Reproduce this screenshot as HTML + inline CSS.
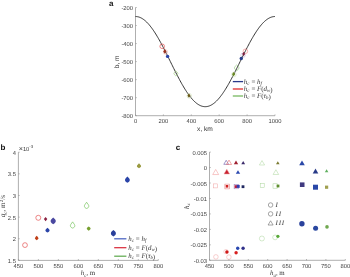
<!DOCTYPE html>
<html><head><meta charset="utf-8"><style>
html,body{margin:0;padding:0;background:#fff;width:350px;height:277px;overflow:hidden}
svg{display:block;text-rendering:geometricPrecision}
</style></head><body>
<svg width="350" height="277" viewBox="0 0 350 277">
<rect width="350" height="277" fill="#fff"/>
<g font-family="Liberation Sans, Arial, sans-serif">
<path d="M135.5,7.5 V115.7 H275.0" fill="none" stroke="#8c8c8c" stroke-width="0.7"/>
<path d="M135.5,7.50 h1.3" stroke="#8c8c8c" stroke-width="0.6"/>
<text x="133.00" y="9.55" font-size="5.8" text-anchor="end" fill="#404040" >-200</text>
<path d="M135.5,25.53 h1.3" stroke="#8c8c8c" stroke-width="0.6"/>
<text x="133.00" y="27.58" font-size="5.8" text-anchor="end" fill="#404040" >-300</text>
<path d="M135.5,43.57 h1.3" stroke="#8c8c8c" stroke-width="0.6"/>
<text x="133.00" y="45.62" font-size="5.8" text-anchor="end" fill="#404040" >-400</text>
<path d="M135.5,61.60 h1.3" stroke="#8c8c8c" stroke-width="0.6"/>
<text x="133.00" y="63.65" font-size="5.8" text-anchor="end" fill="#404040" >-500</text>
<path d="M135.5,79.63 h1.3" stroke="#8c8c8c" stroke-width="0.6"/>
<text x="133.00" y="81.68" font-size="5.8" text-anchor="end" fill="#404040" >-600</text>
<path d="M135.5,97.67 h1.3" stroke="#8c8c8c" stroke-width="0.6"/>
<text x="133.00" y="99.72" font-size="5.8" text-anchor="end" fill="#404040" >-700</text>
<path d="M135.5,115.70 h1.3" stroke="#8c8c8c" stroke-width="0.6"/>
<text x="133.00" y="117.75" font-size="5.8" text-anchor="end" fill="#404040" >-800</text>
<path d="M135.50,115.7 v-1.3" stroke="#8c8c8c" stroke-width="0.6"/>
<text x="135.50" y="123.10" font-size="5.8" text-anchor="middle" fill="#404040" >0</text>
<path d="M163.40,115.7 v-1.3" stroke="#8c8c8c" stroke-width="0.6"/>
<text x="163.40" y="123.10" font-size="5.8" text-anchor="middle" fill="#404040" >200</text>
<path d="M191.30,115.7 v-1.3" stroke="#8c8c8c" stroke-width="0.6"/>
<text x="191.30" y="123.10" font-size="5.8" text-anchor="middle" fill="#404040" >400</text>
<path d="M219.20,115.7 v-1.3" stroke="#8c8c8c" stroke-width="0.6"/>
<text x="219.20" y="123.10" font-size="5.8" text-anchor="middle" fill="#404040" >600</text>
<path d="M247.10,115.7 v-1.3" stroke="#8c8c8c" stroke-width="0.6"/>
<text x="247.10" y="123.10" font-size="5.8" text-anchor="middle" fill="#404040" >800</text>
<path d="M275.00,115.7 v-1.3" stroke="#8c8c8c" stroke-width="0.6"/>
<text x="275.00" y="123.10" font-size="5.8" text-anchor="middle" fill="#404040" >1000</text>
<text x="205.00" y="131.30" font-size="6.6" text-anchor="middle" fill="#303030" >x, km</text>
<text transform="translate(118.6,61.8) rotate(-90)" font-size="6.6" text-anchor="middle" fill="#303030">b, m</text>
</g>
<text x="109" y="5.8" font-family="Liberation Sans, Arial, sans-serif" font-size="8" font-weight="bold" fill="#111">a</text>
<polyline points="135.50,16.52 136.20,16.54 136.90,16.61 137.59,16.72 138.29,16.87 138.99,17.07 139.69,17.32 140.38,17.60 141.08,17.93 141.78,18.31 142.47,18.72 143.17,19.18 143.87,19.68 144.57,20.22 145.26,20.81 145.96,21.43 146.66,22.09 147.36,22.79 148.06,23.53 148.75,24.31 149.45,25.13 150.15,25.98 150.84,26.86 151.54,27.78 152.24,28.74 152.94,29.72 153.63,30.74 154.33,31.79 155.03,32.86 155.73,33.97 156.43,35.10 157.12,36.26 157.82,37.44 158.52,38.65 159.22,39.88 159.91,41.13 160.61,42.40 161.31,43.70 162.00,45.00 162.70,46.33 163.40,47.67 164.10,49.02 164.80,50.39 165.49,51.77 166.19,53.15 166.89,54.55 167.59,55.95 168.28,57.36 168.98,58.77 169.68,60.18 170.38,61.60 171.07,63.02 171.77,64.43 172.47,65.84 173.16,67.25 173.86,68.65 174.56,70.05 175.26,71.43 175.95,72.81 176.65,74.18 177.35,75.53 178.05,76.87 178.75,78.20 179.44,79.50 180.14,80.80 180.84,82.07 181.53,83.32 182.23,84.55 182.93,85.76 183.63,86.94 184.32,88.10 185.02,89.23 185.72,90.34 186.42,91.41 187.12,92.46 187.81,93.48 188.51,94.46 189.21,95.42 189.91,96.34 190.60,97.22 191.30,98.07 192.00,98.89 192.69,99.67 193.39,100.41 194.09,101.11 194.79,101.77 195.49,102.39 196.18,102.98 196.88,103.52 197.58,104.02 198.28,104.48 198.97,104.89 199.67,105.27 200.37,105.60 201.06,105.88 201.76,106.13 202.46,106.33 203.16,106.48 203.86,106.59 204.55,106.66 205.25,106.68 205.95,106.66 206.64,106.59 207.34,106.48 208.04,106.33 208.74,106.13 209.44,105.88 210.13,105.60 210.83,105.27 211.53,104.89 212.22,104.48 212.92,104.02 213.62,103.52 214.32,102.98 215.01,102.39 215.71,101.77 216.41,101.11 217.11,100.41 217.81,99.67 218.50,98.89 219.20,98.07 219.90,97.22 220.59,96.34 221.29,95.42 221.99,94.46 222.69,93.48 223.38,92.46 224.08,91.41 224.78,90.34 225.48,89.23 226.18,88.10 226.87,86.94 227.57,85.76 228.27,84.55 228.97,83.32 229.66,82.07 230.36,80.80 231.06,79.50 231.75,78.20 232.45,76.87 233.15,75.53 233.85,74.18 234.55,72.81 235.24,71.43 235.94,70.05 236.64,68.65 237.33,67.25 238.03,65.84 238.73,64.43 239.43,63.02 240.12,61.60 240.82,60.18 241.52,58.77 242.22,57.36 242.92,55.95 243.61,54.55 244.31,53.15 245.01,51.77 245.70,50.39 246.40,49.02 247.10,47.67 247.80,46.33 248.50,45.00 249.19,43.70 249.89,42.40 250.59,41.13 251.28,39.88 251.98,38.65 252.68,37.44 253.38,36.26 254.07,35.10 254.77,33.97 255.47,32.86 256.17,31.79 256.87,30.74 257.56,29.72 258.26,28.74 258.96,27.78 259.65,26.86 260.35,25.98 261.05,25.13 261.75,24.31 262.44,23.53 263.14,22.79 263.84,22.09 264.54,21.43 265.24,20.81 265.93,20.22 266.63,19.68 267.33,19.18 268.02,18.72 268.72,18.31 269.42,17.93 270.12,17.60 270.81,17.32 271.51,17.07 272.21,16.87 272.91,16.72 273.61,16.61 274.30,16.54 275.00,16.52" fill="none" stroke="#1e1e1e" stroke-width="0.9"/>
<circle cx="165.5" cy="52" r="2.2" fill="none" stroke="#f0b0b0" stroke-width="0.5" opacity="1"/>
<circle cx="162.2" cy="46.3" r="2.3" fill="none" stroke="#e03a3a" stroke-width="0.6" opacity="1"/>
<path d="M164.9,49.10 L166.60,51.4 L164.9,53.70 L163.20,51.4 Z" fill="#9a3420" stroke="none" stroke-width="0.6" opacity="1"/>
<circle cx="167.6" cy="56.4" r="1.7" fill="#2a44a8" stroke="none" stroke-width="0.6" opacity="1"/>
<path d="M175.9,70.84 L177.23,72.14 A1.9,1.9 0 0 1 177.11,74.96 L175.9,75.97 L174.69,74.96 A1.9,1.9 0 0 1 174.57,72.14 Z" fill="none" stroke="#9ccc78" stroke-width="0.6" opacity="1"/>
<circle cx="189.3" cy="95.9" r="2.3" fill="none" stroke="#c8dcb0" stroke-width="0.5" opacity="1"/>
<path d="M189,93.60 L190.60,95.7 L189,97.80 L187.40,95.7 Z" fill="#6a5a18" stroke="none" stroke-width="0.6" opacity="1"/>
<circle cx="245.4" cy="51.3" r="2.3" fill="none" stroke="#f08080" stroke-width="0.6" opacity="1"/>
<circle cx="243.0" cy="55.2" r="2.2" fill="none" stroke="#b0a0d0" stroke-width="0.5" opacity="1"/>
<path d="M243.6,51.90 L245.10,54 L243.6,56.10 L242.10,54 Z" fill="#7a2040" stroke="none" stroke-width="0.6" opacity="1"/>
<circle cx="241.3" cy="58.5" r="1.7" fill="#243c88" stroke="none" stroke-width="0.6" opacity="1"/>
<path d="M236.7,64.93 L238.18,66.27 A2.2,2.2 0 0 1 238.11,69.59 L236.7,70.76 L235.29,69.59 A2.2,2.2 0 0 1 235.22,66.27 Z" fill="none" stroke="#90c878" stroke-width="0.6" opacity="1"/>
<circle cx="233.9" cy="74.5" r="2.3" fill="none" stroke="#c8dcb0" stroke-width="0.5" opacity="1"/>
<path d="M233.6,72.10 L235.20,74.2 L233.6,76.30 L232.00,74.2 Z" fill="#6a8a20" stroke="none" stroke-width="0.6" opacity="1"/>
<line x1="232.8" y1="81.6" x2="243.1" y2="81.6" stroke="#2a3a8a" stroke-width="1.3"/>
<line x1="232.8" y1="89.0" x2="243.1" y2="89.0" stroke="#e02c2c" stroke-width="1.3"/>
<line x1="232.8" y1="96.0" x2="243.1" y2="96.0" stroke="#78b860" stroke-width="1.3"/>
<text x="243.8" y="83.5" font-family="Liberation Serif, serif" font-size="6.9" fill="#333"><tspan font-style="italic">h</tspan><tspan font-style="italic" font-size="4.83" dy="1.3">c</tspan><tspan dy="-1.3" dx="0.3"> = </tspan><tspan font-style="italic">h</tspan><tspan font-style="italic" font-size="4.83" dy="1.3">f</tspan><tspan dy="-1.3"></tspan></text>
<text x="243.8" y="90.9" font-family="Liberation Serif, serif" font-size="6.9" fill="#333"><tspan font-style="italic">h</tspan><tspan font-style="italic" font-size="4.83" dy="1.3">c</tspan><tspan dy="-1.3" dx="0.3"> = </tspan><tspan font-style="italic">F</tspan><tspan>(</tspan><tspan font-style="italic">d</tspan><tspan font-style="italic" font-size="4.83" dy="1.3">w</tspan><tspan dy="-1.3"></tspan><tspan>)</tspan></text>
<text x="243.8" y="97.9" font-family="Liberation Serif, serif" font-size="6.9" fill="#333"><tspan font-style="italic">h</tspan><tspan font-style="italic" font-size="4.83" dy="1.3">c</tspan><tspan dy="-1.3" dx="0.3"> = </tspan><tspan font-style="italic">F</tspan><tspan>(</tspan><tspan font-style="italic">τ</tspan><tspan font-style="italic" font-size="4.83" dy="1.3">b</tspan><tspan dy="-1.3"></tspan><tspan>)</tspan></text>
<g font-family="Liberation Sans, Arial, sans-serif">
<path d="M18.4,152.2 V260.4 H158.3" fill="none" stroke="#8c8c8c" stroke-width="0.7"/>
<path d="M18.4,152.20 h1.3" stroke="#8c8c8c" stroke-width="0.6"/>
<text x="15.90" y="154.70" font-size="5.8" text-anchor="end" fill="#404040" >4</text>
<path d="M18.4,173.84 h1.3" stroke="#8c8c8c" stroke-width="0.6"/>
<text x="15.90" y="176.34" font-size="5.8" text-anchor="end" fill="#404040" >3.5</text>
<path d="M18.4,195.48 h1.3" stroke="#8c8c8c" stroke-width="0.6"/>
<text x="15.90" y="197.98" font-size="5.8" text-anchor="end" fill="#404040" >3</text>
<path d="M18.4,217.12 h1.3" stroke="#8c8c8c" stroke-width="0.6"/>
<text x="15.90" y="219.62" font-size="5.8" text-anchor="end" fill="#404040" >2.5</text>
<path d="M18.4,238.76 h1.3" stroke="#8c8c8c" stroke-width="0.6"/>
<text x="15.90" y="241.26" font-size="5.8" text-anchor="end" fill="#404040" >2</text>
<path d="M18.4,260.40 h1.3" stroke="#8c8c8c" stroke-width="0.6"/>
<text x="15.90" y="262.90" font-size="5.8" text-anchor="end" fill="#404040" >1.5</text>
<path d="M18.40,260.4 v-1.3" stroke="#8c8c8c" stroke-width="0.6"/>
<text x="18.40" y="268.10" font-size="5.8" text-anchor="middle" fill="#404040" >450</text>
<path d="M38.39,260.4 v-1.3" stroke="#8c8c8c" stroke-width="0.6"/>
<text x="38.39" y="268.10" font-size="5.8" text-anchor="middle" fill="#404040" >500</text>
<path d="M58.37,260.4 v-1.3" stroke="#8c8c8c" stroke-width="0.6"/>
<text x="58.37" y="268.10" font-size="5.8" text-anchor="middle" fill="#404040" >550</text>
<path d="M78.36,260.4 v-1.3" stroke="#8c8c8c" stroke-width="0.6"/>
<text x="78.36" y="268.10" font-size="5.8" text-anchor="middle" fill="#404040" >600</text>
<path d="M98.34,260.4 v-1.3" stroke="#8c8c8c" stroke-width="0.6"/>
<text x="98.34" y="268.10" font-size="5.8" text-anchor="middle" fill="#404040" >650</text>
<path d="M118.33,260.4 v-1.3" stroke="#8c8c8c" stroke-width="0.6"/>
<text x="118.33" y="268.10" font-size="5.8" text-anchor="middle" fill="#404040" >700</text>
<path d="M138.31,260.4 v-1.3" stroke="#8c8c8c" stroke-width="0.6"/>
<text x="138.31" y="268.10" font-size="5.8" text-anchor="middle" fill="#404040" >750</text>
<path d="M158.30,260.4 v-1.3" stroke="#8c8c8c" stroke-width="0.6"/>
<text x="158.30" y="268.10" font-size="5.8" text-anchor="middle" fill="#404040" >800</text>
<text x="18.70" y="151.40" font-size="5.8" text-anchor="start" fill="#404040" ><tspan font-size="7.2">×</tspan>10<tspan font-size="4.4" dy="-3.2">-3</tspan></text>
</g>
<text x="0.6" y="150.2" font-family="Liberation Sans, Arial, sans-serif" font-size="8" font-weight="bold" fill="#111">b</text>
<text x="88" y="275.4" font-family="Liberation Serif, serif" font-size="6.9" text-anchor="middle" fill="#333"><tspan font-style="italic">h</tspan><tspan font-style="italic" font-size="4.8" dy="1.3">c</tspan><tspan dy="-1.3">, m</tspan></text>
<text transform="translate(5.4,206.2) rotate(-90)" font-family="Liberation Serif, serif" font-size="7.2" text-anchor="middle" fill="#333"><tspan font-style="italic">q</tspan><tspan font-style="italic" font-size="5.0" dy="1.3">c</tspan><tspan dy="-1.3">, m</tspan><tspan font-size="5.0" dy="-2.6">2</tspan><tspan dy="2.6">/s</tspan></text>
<circle cx="38.3" cy="217.8" r="2.5" fill="none" stroke="#e03a3a" stroke-width="0.6" opacity="1"/>
<path d="M45.6,216.90 L47.30,219.1 L45.6,221.30 L43.90,219.1 Z" fill="#8a2040" stroke="none" stroke-width="0.6" opacity="1"/>
<path d="M53.2,217.46 L55.02,219.24 A2.6,2.6 0 0 1 54.64,223.27 L53.2,224.22 L51.76,223.27 A2.6,2.6 0 0 1 51.38,219.24 Z" fill="#4a48a0" stroke="none" stroke-width="0.6" opacity="1"/>
<path d="M47.5,227.64 L48.83,228.94 A1.9,1.9 0 0 1 48.55,231.88 L47.5,232.58 L46.45,231.88 A1.9,1.9 0 0 1 46.17,228.94 Z" fill="#2a44a8" stroke="none" stroke-width="0.6" opacity="1"/>
<path d="M36.7,235.72 L37.89,236.89 A1.7,1.7 0 0 1 37.64,239.52 L36.7,240.14 L35.76,239.52 A1.7,1.7 0 0 1 35.51,236.89 Z" fill="#c04018" stroke="none" stroke-width="0.6" opacity="1"/>
<circle cx="25" cy="245.1" r="2.4" fill="none" stroke="#e03a3a" stroke-width="0.6" opacity="1"/>
<path d="M86.6,202.25 L88.41,204.84 A2.2,2.2 0 0 1 87.43,208.14 L86.6,208.48 L85.77,208.14 A2.2,2.2 0 0 1 84.79,204.84 Z" fill="none" stroke="#6cc050" stroke-width="0.65" opacity="1"/>
<path d="M72.6,221.85 L74.41,224.44 A2.2,2.2 0 0 1 73.43,227.74 L72.6,228.08 L71.77,227.74 A2.2,2.2 0 0 1 70.79,224.44 Z" fill="none" stroke="#6cc050" stroke-width="0.65" opacity="1"/>
<path d="M88.7,226.39 L89.79,227.29 A1.7,1.7 0 0 1 89.64,230.02 L88.7,230.64 L87.76,230.02 A1.7,1.7 0 0 1 87.61,227.29 Z" fill="#78a030" stroke="none" stroke-width="0.6" opacity="1"/>
<path d="M127.4,176.54 L129.08,178.19 A2.4,2.4 0 0 1 128.73,181.90 L127.4,182.78 L126.07,181.90 A2.4,2.4 0 0 1 125.72,178.19 Z" fill="#2a44a8" stroke="none" stroke-width="0.6" opacity="1"/>
<path d="M139,163.34 L140.33,164.64 A1.9,1.9 0 0 1 140.05,167.58 L139,168.28 L137.95,167.58 A1.9,1.9 0 0 1 137.67,164.64 Z" fill="#9a9a40" stroke="none" stroke-width="0.6" opacity="1"/>
<path d="M113.4,229.90 L115.15,231.61 A2.5,2.5 0 0 1 114.78,235.48 L113.4,236.40 L112.02,235.48 A2.5,2.5 0 0 1 111.65,231.61 Z" fill="#2a3f9a" stroke="none" stroke-width="0.6" opacity="1"/>
<line x1="114.2" y1="238.8" x2="126.4" y2="238.8" stroke="#4862c0" stroke-width="1.25"/>
<line x1="114.2" y1="247.7" x2="126.4" y2="247.7" stroke="#d82c3c" stroke-width="1.25"/>
<line x1="114.2" y1="256.2" x2="126.4" y2="256.2" stroke="#60aa50" stroke-width="1.25"/>
<text x="128.2" y="240.9" font-family="Liberation Serif, serif" font-size="6.9" fill="#333"><tspan font-style="italic">h</tspan><tspan font-style="italic" font-size="4.83" dy="1.3">c</tspan><tspan dy="-1.3" dx="0.3"> = </tspan><tspan font-style="italic">h</tspan><tspan font-style="italic" font-size="4.83" dy="1.3">f</tspan><tspan dy="-1.3"></tspan></text>
<text x="128.2" y="249.70000000000002" font-family="Liberation Serif, serif" font-size="6.9" fill="#333"><tspan font-style="italic">h</tspan><tspan font-style="italic" font-size="4.83" dy="1.3">c</tspan><tspan dy="-1.3" dx="0.3"> = </tspan><tspan font-style="italic">F</tspan><tspan>(</tspan><tspan font-style="italic">d</tspan><tspan font-style="italic" font-size="4.83" dy="1.3">w</tspan><tspan dy="-1.3"></tspan><tspan>)</tspan></text>
<text x="128.2" y="257.59999999999997" font-family="Liberation Serif, serif" font-size="6.9" fill="#333"><tspan font-style="italic">h</tspan><tspan font-style="italic" font-size="4.83" dy="1.3">c</tspan><tspan dy="-1.3" dx="0.3"> = </tspan><tspan font-style="italic">F</tspan><tspan>(</tspan><tspan font-style="italic">τ</tspan><tspan font-style="italic" font-size="4.83" dy="1.3">b</tspan><tspan dy="-1.3"></tspan><tspan>)</tspan></text>
<g font-family="Liberation Sans, Arial, sans-serif">
<path d="M209.5,152.1 V260.3 H345.3" fill="none" stroke="#8c8c8c" stroke-width="0.7"/>
<path d="M209.5,152.10 h1.3" stroke="#8c8c8c" stroke-width="0.6"/>
<text x="207.00" y="154.60" font-size="5.8" text-anchor="end" fill="#404040" >0.005</text>
<path d="M209.5,167.56 h1.3" stroke="#8c8c8c" stroke-width="0.6"/>
<text x="207.00" y="170.06" font-size="5.8" text-anchor="end" fill="#404040" >0</text>
<path d="M209.5,183.01 h1.3" stroke="#8c8c8c" stroke-width="0.6"/>
<text x="207.00" y="185.51" font-size="5.8" text-anchor="end" fill="#404040" >-0.005</text>
<path d="M209.5,198.47 h1.3" stroke="#8c8c8c" stroke-width="0.6"/>
<text x="207.00" y="200.97" font-size="5.8" text-anchor="end" fill="#404040" >-0.01</text>
<path d="M209.5,213.93 h1.3" stroke="#8c8c8c" stroke-width="0.6"/>
<text x="207.00" y="216.43" font-size="5.8" text-anchor="end" fill="#404040" >-0.015</text>
<path d="M209.5,229.39 h1.3" stroke="#8c8c8c" stroke-width="0.6"/>
<text x="207.00" y="231.89" font-size="5.8" text-anchor="end" fill="#404040" >-0.02</text>
<path d="M209.5,244.84 h1.3" stroke="#8c8c8c" stroke-width="0.6"/>
<text x="207.00" y="247.34" font-size="5.8" text-anchor="end" fill="#404040" >-0.025</text>
<path d="M209.5,260.30 h1.3" stroke="#8c8c8c" stroke-width="0.6"/>
<text x="207.00" y="262.80" font-size="5.8" text-anchor="end" fill="#404040" >-0.03</text>
<path d="M209.50,260.3 v-1.3" stroke="#8c8c8c" stroke-width="0.6"/>
<text x="209.50" y="268.30" font-size="5.8" text-anchor="middle" fill="#404040" >450</text>
<path d="M228.90,260.3 v-1.3" stroke="#8c8c8c" stroke-width="0.6"/>
<text x="228.90" y="268.30" font-size="5.8" text-anchor="middle" fill="#404040" >500</text>
<path d="M248.30,260.3 v-1.3" stroke="#8c8c8c" stroke-width="0.6"/>
<text x="248.30" y="268.30" font-size="5.8" text-anchor="middle" fill="#404040" >550</text>
<path d="M267.70,260.3 v-1.3" stroke="#8c8c8c" stroke-width="0.6"/>
<text x="267.70" y="268.30" font-size="5.8" text-anchor="middle" fill="#404040" >600</text>
<path d="M287.10,260.3 v-1.3" stroke="#8c8c8c" stroke-width="0.6"/>
<text x="287.10" y="268.30" font-size="5.8" text-anchor="middle" fill="#404040" >650</text>
<path d="M306.50,260.3 v-1.3" stroke="#8c8c8c" stroke-width="0.6"/>
<text x="306.50" y="268.30" font-size="5.8" text-anchor="middle" fill="#404040" >700</text>
<path d="M325.90,260.3 v-1.3" stroke="#8c8c8c" stroke-width="0.6"/>
<text x="325.90" y="268.30" font-size="5.8" text-anchor="middle" fill="#404040" >750</text>
<path d="M345.30,260.3 v-1.3" stroke="#8c8c8c" stroke-width="0.6"/>
<text x="345.30" y="268.30" font-size="5.8" text-anchor="middle" fill="#404040" >800</text>
</g>
<text x="175.8" y="150.2" font-family="Liberation Sans, Arial, sans-serif" font-size="8" font-weight="bold" fill="#111">c</text>
<text x="277.4" y="275.4" font-family="Liberation Serif, serif" font-size="6.9" text-anchor="middle" fill="#333"><tspan font-style="italic">h</tspan><tspan font-style="italic" font-size="4.8" dy="1.3">g</tspan><tspan dy="-1.3">, m</tspan></text>
<text transform="translate(188.6,206.2) rotate(-90)" font-family="Liberation Serif, serif" font-size="6.9" text-anchor="middle" fill="#333"><tspan font-style="italic">h</tspan><tspan font-style="italic" font-size="4.8" dy="1.3">x</tspan></text>
<path d="M226.2,160.26 L228.60,164.34 L223.80,164.34 Z" fill="none" stroke="#6858a8" stroke-width="0.6" opacity="1"/>
<path d="M229.0,160.09 L231.60,164.51 L226.40,164.51 Z" fill="none" stroke="#e87070" stroke-width="0.6" opacity="1"/>
<path d="M236.0,160.53 L238.20,164.27 L233.80,164.27 Z" fill="#a02030" stroke="none" stroke-width="0.6" opacity="1"/>
<path d="M243.2,160.98 L245.10,164.22 L241.30,164.22 Z" fill="#3a2a6a" stroke="none" stroke-width="0.6" opacity="1"/>
<path d="M262.0,160.59 L264.60,165.01 L259.40,165.01 Z" fill="none" stroke="#a8d498" stroke-width="0.5" opacity="1"/>
<path d="M277.8,161.27 L279.60,164.33 L276.00,164.33 Z" fill="#7a7a30" stroke="none" stroke-width="0.6" opacity="1"/>
<path d="M302.0,160.52 L304.80,165.28 L299.20,165.28 Z" fill="#2a48a8" stroke="none" stroke-width="0.6" opacity="1"/>
<path d="M215.7,169.45 L218.70,174.55 L212.70,174.55 Z" fill="none" stroke="#f09090" stroke-width="0.5" opacity="1"/>
<path d="M226.8,169.22 L229.60,173.98 L224.00,173.98 Z" fill="#c82030" stroke="#f0a0a0" stroke-width="0.5" opacity="1"/>
<path d="M238.0,170.13 L240.20,173.87 L235.80,173.87 Z" fill="#2a48b0" stroke="none" stroke-width="0.6" opacity="1"/>
<path d="M275.9,169.72 L278.70,174.48 L273.10,174.48 Z" fill="none" stroke="#a8d498" stroke-width="0.5" opacity="1"/>
<path d="M315.5,168.62 L318.30,173.38 L312.70,173.38 Z" fill="#283a88" stroke="none" stroke-width="0.6" opacity="1"/>
<path d="M326.6,169.27 L328.40,172.33 L324.80,172.33 Z" fill="#60b060" stroke="none" stroke-width="0.6" opacity="1"/>
<rect x="213.70" y="183.90" width="4.00" height="4.00" fill="none" stroke="#f0a0a0" stroke-width="0.5" opacity="1"/>
<rect x="224.90" y="184.10" width="4.80" height="4.80" fill="none" stroke="#e07070" stroke-width="0.5" opacity="1"/>
<rect x="225.70" y="185.00" width="2.60" height="2.60" fill="#d02020" stroke="none" stroke-width="0.6" opacity="1"/>
<rect x="234.10" y="184.40" width="4.40" height="4.40" fill="none" stroke="#9070b0" stroke-width="0.5" opacity="1"/>
<rect x="234.60" y="185.20" width="2.80" height="2.80" fill="#c02040" stroke="none" stroke-width="0.6" opacity="1"/>
<rect x="236.70" y="184.90" width="3.00" height="3.00" fill="#3040b0" stroke="none" stroke-width="0.6" opacity="1"/>
<rect x="241.60" y="185.30" width="2.80" height="2.80" fill="#202860" stroke="none" stroke-width="0.6" opacity="1"/>
<rect x="260.20" y="183.70" width="4.00" height="4.00" fill="none" stroke="#a8d498" stroke-width="0.5" opacity="1"/>
<rect x="273.00" y="183.80" width="4.40" height="4.40" fill="none" stroke="#a8d498" stroke-width="0.5" opacity="1"/>
<rect x="276.60" y="184.60" width="2.80" height="2.80" fill="#609030" stroke="none" stroke-width="0.6" opacity="1"/>
<rect x="299.90" y="182.40" width="4.60" height="4.60" fill="#403a80" stroke="none" stroke-width="0.6" opacity="1"/>
<rect x="313.00" y="184.70" width="5.00" height="5.00" fill="#2a48a8" stroke="none" stroke-width="0.6" opacity="1"/>
<rect x="325.00" y="185.60" width="3.20" height="3.20" fill="#a0a050" stroke="none" stroke-width="0.6" opacity="1"/>
<circle cx="215.9" cy="256.9" r="2.3" fill="none" stroke="#f0a0a0" stroke-width="0.5" opacity="1"/>
<circle cx="228.9" cy="257.1" r="2.3" fill="none" stroke="#f0a0a0" stroke-width="0.5" opacity="1"/>
<circle cx="226.0" cy="251.6" r="2.2" fill="none" stroke="#f0b0b0" stroke-width="0.5" opacity="1"/>
<circle cx="226.9" cy="252.0" r="1.7" fill="#d01818" stroke="none" stroke-width="0.6" opacity="1"/>
<circle cx="236.1" cy="252.8" r="1.7" fill="#d82020" stroke="none" stroke-width="0.6" opacity="1"/>
<circle cx="237.7" cy="248.3" r="1.7" fill="#2a48b0" stroke="none" stroke-width="0.6" opacity="1"/>
<circle cx="243.1" cy="248.2" r="1.7" fill="#30308a" stroke="none" stroke-width="0.6" opacity="1"/>
<circle cx="301.9" cy="223.7" r="2.7" fill="#2a429c" stroke="none" stroke-width="0.6" opacity="1"/>
<circle cx="315.6" cy="228.3" r="2.5" fill="#2a48a0" stroke="none" stroke-width="0.6" opacity="1"/>
<circle cx="327.0" cy="226.9" r="1.8" fill="#70a850" stroke="none" stroke-width="0.6" opacity="1"/>
<circle cx="261.9" cy="238.5" r="2.5" fill="none" stroke="#a8d498" stroke-width="0.5" opacity="1"/>
<circle cx="275.1" cy="237.4" r="2.4" fill="none" stroke="#a8d498" stroke-width="0.5" opacity="1"/>
<circle cx="277.9" cy="236.3" r="1.6" fill="#58a838" stroke="none" stroke-width="0.6" opacity="1"/>
<circle cx="270.6" cy="205.0" r="2.25" fill="none" stroke="#6a6a6a" stroke-width="0.6" opacity="1"/>
<circle cx="270.6" cy="213.9" r="2.25" fill="none" stroke="#6a6a6a" stroke-width="0.6" opacity="1"/>
<path d="M270.6,220.78 L273.10,225.03 L268.10,225.03 Z" fill="none" stroke="#6a6a6a" stroke-width="0.6" opacity="1"/>
<text x="275.6" y="207.2" font-family="Liberation Serif, serif" font-size="7.0" font-style="italic" letter-spacing="0.75" fill="#333">I</text>
<text x="275.6" y="216.1" font-family="Liberation Serif, serif" font-size="7.0" font-style="italic" letter-spacing="0.75" fill="#333">II</text>
<text x="275.6" y="225.1" font-family="Liberation Serif, serif" font-size="7.0" font-style="italic" letter-spacing="0.75" fill="#333">III</text>
</svg>
</body></html>
